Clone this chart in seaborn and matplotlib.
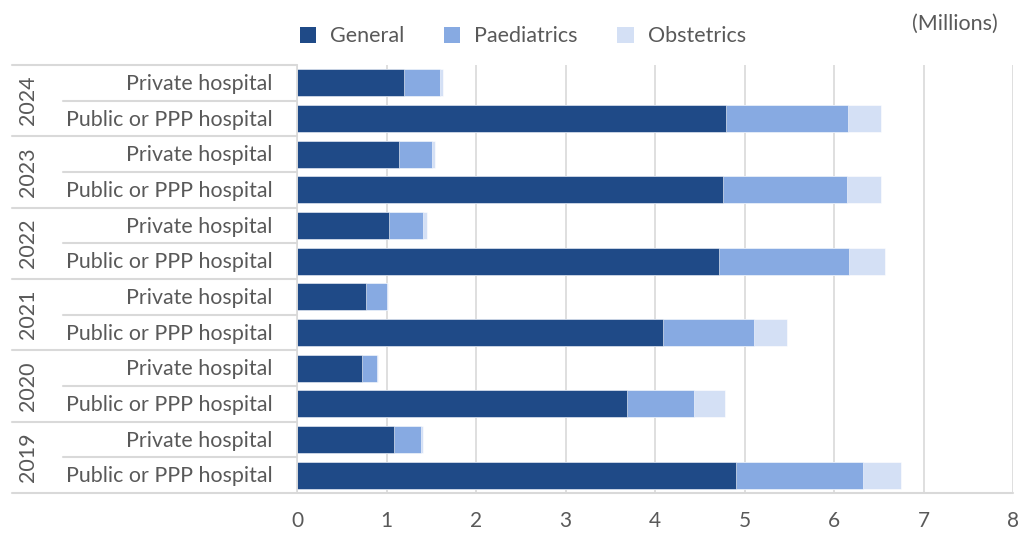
import matplotlib
matplotlib.use("Agg")
import matplotlib.pyplot as plt
from matplotlib.patches import Patch
from matplotlib.lines import Line2D
import seaborn as sns
import pandas as pd
import numpy as np

# Hospital beds / admissions by year and hospital type (millions)
years = ["2024", "2023", "2022", "2021", "2020", "2019"]
hospital_types = ["Private hospital", "Public or PPP hospital"]

general_private = [1.20, 1.14, 1.03, 0.77, 0.73, 1.08]
general_public = [4.79, 4.76, 4.72, 4.09, 3.69, 4.91]
paediatrics_private = [0.40, 0.37, 0.38, 0.24, 0.16, 0.31]
paediatrics_public = [1.37, 1.38, 1.45, 1.02, 0.74, 1.41]
obstetrics_private = [0.03, 0.03, 0.04, 0.01, 0.01, 0.02]
obstetrics_public = [0.36, 0.39, 0.40, 0.36, 0.35, 0.43]

series_names = ["General", "Paediatrics", "Obstetrics"]
colors = ["#1f4a87", "#87aae2", "#d4e0f5"]
text_color = "#595959"
grid_color = "#d9d9d9"

rows = []
for i, y in enumerate(years):
    for t, g, p, o in [
        ("Private hospital", general_private[i], paediatrics_private[i], obstetrics_private[i]),
        ("Public or PPP hospital", general_public[i], paediatrics_public[i], obstetrics_public[i]),
    ]:
        rows.append({"row": f"{y} | {t}", "year": y, "type": t,
                     "General": g, "Paediatrics": p, "Obstetrics": o})
df = pd.DataFrame(rows)
df["cum_general"] = df["General"]
df["cum_paed"] = df["General"] + df["Paediatrics"]
df["cum_obst"] = df["cum_paed"] + df["Obstetrics"]
order = list(df["row"])

sns.set_theme(style="white")
plt.rcParams["font.family"] = ["Lato", "DejaVu Sans"]

fig = plt.figure(figsize=(10.21, 5.34), dpi=100)
ax = fig.add_axes([0.2909, 0.0768, 0.7013, 0.8015])

# Stacked horizontal bars: draw cumulative totals from longest to shortest
for col, c in zip(["cum_obst", "cum_paed", "cum_general"], colors[::-1]):
    sns.barplot(data=df, y="row", x=col, order=order, orient="h", color=c,
                width=0.75, saturation=1, ax=ax, edgecolor="white", linewidth=0.4)

ax.set_xlim(0, 8)
ax.set_ylim(len(order) - 0.5, -0.5)
ax.set_xticks(range(0, 9))
ax.set_xticklabels([str(v) for v in range(0, 9)], fontsize=15, color=text_color)
ax.tick_params(axis="x", length=0, pad=13)
ax.set_yticks([])
ax.set_xlabel("")
ax.set_ylabel("")
ax.xaxis.grid(True, color=grid_color, linewidth=1.2)
ax.set_axisbelow(True)
for s in ["top", "right"]:
    ax.spines[s].set_visible(False)
ax.spines["left"].set_color(grid_color)
ax.spines["left"].set_linewidth(1.2)
ax.spines["bottom"].set_visible(False)

# Hierarchical category labels on the left
trans = ax.get_yaxis_transform()
x_outer = -0.398
x_inner = -0.327
for i, r in df.iterrows():
    ax.text(-0.034, i + 0.03, r["type"], transform=trans, ha="right", va="center",
            fontsize=15.4, color=text_color, clip_on=False)
for k, y in enumerate(years):
    ax.text(-0.376, 2 * k + 0.5, y, transform=trans, ha="center", va="center",
            rotation=90, fontsize=15.4, color=text_color, clip_on=False)
for k in range(len(order) + 1):
    yb = k - 0.5
    if k % 2 == 0:
        x0 = x_outer
        x1 = 1.0 if k == len(order) else 0.0
    else:
        x0, x1 = x_inner, 0.0
    ax.add_line(Line2D([x0, x1], [yb, yb], transform=trans, color=grid_color,
                       linewidth=1.5, clip_on=False))

# Legend and unit note
handles = [Patch(facecolor=c, edgecolor="none") for c in colors]
fig.legend(handles, series_names, loc="center", bbox_to_anchor=(0.512, 0.932),
           ncol=3, frameon=False, handlelength=0.75, handleheight=0.75,
           columnspacing=1.85, handletextpad=0.65, labelcolor=text_color,
           prop={"size": 15.5})
fig.text(0.935, 0.955, "(Millions)", ha="center", va="center", fontsize=15.5,
         color=text_color)

fig.savefig("out.png", dpi=100)
